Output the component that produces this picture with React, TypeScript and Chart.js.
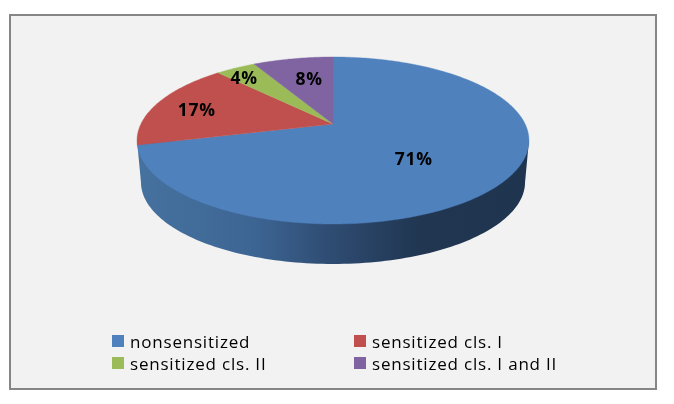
import React, { useEffect, useRef } from "react";
import { Chart, registerables } from "chart.js";

Chart.register(...registerables);

const categories = ["nonsensitized", "sensitized cls. I", "sensitized cls. II", "sensitized cls. I and II"];
const shares = [71, 17, 4, 8];
const sliceColors = ["#4f81bd", "#c0504d", "#9bbb59", "#8064a2"];
// order in which the legend cells are filled: [column, row]
const legendCells = [[0, 0], [1, 0], [0, 1], [1, 1]];
// per-slice label placement: radial fraction and vertical nudge
const labelRadius = [0.5, 0.77, 0.9, 0.55];
const labelNudge = [10, 3.5, 6, -5];

const TILT = { k: 0.1976, sx: 192.1, sy: 80.24 };
const BASE = { scale: 0.98, drop: 42 };
const LEGEND = { cols: [112, 354], rows: [335, 357], box: 12, gap: 6 };
const FONT = '"Open Sans", sans-serif';

function project(cx: number, cy: number, a: number, r = 1, s = 1) {
  const u = Math.cos(a) * r;
  const v = Math.sin(a) * r;
  const d = 1 - TILT.k * v;
  return { x: cx + (s * TILT.sx * u) / d, y: cy + (s * TILT.sy * v) / d };
}

const perspectivePie = {
  id: "perspectivePie",
  beforeDatasetsDraw(chart: any) {
    const { ctx } = chart;
    const meta = chart.getDatasetMeta(0);
    const cx = meta.data[0].x;
    const cy = meta.data[0].y;

    // side wall
    const ext = Math.asin(TILT.k);
    const grad = ctx.createLinearGradient(cx - 196, 0, cx + 196, 0);
    grad.addColorStop(0, "#46729f");
    grad.addColorStop(0.3, "#3d6593");
    grad.addColorStop(0.5, "#2e4b71");
    grad.addColorStop(0.72, "#203651");
    grad.addColorStop(1, "#1f344f");
    ctx.save();
    ctx.fillStyle = grad;
    ctx.beginPath();
    const top0 = project(cx, cy, ext);
    ctx.moveTo(top0.x, top0.y);
    for (let i = 0; i <= 120; i++) {
      const a = ext + ((Math.PI - 2 * ext) * i) / 120;
      const p = project(cx, cy + BASE.drop, a, 1, BASE.scale);
      ctx.lineTo(p.x, p.y);
    }
    const top1 = project(cx, cy, Math.PI - ext);
    ctx.lineTo(top1.x, top1.y);
    ctx.closePath();
    ctx.fill();

    // top face, one slice per arc element of the doughnut controller
    meta.data.forEach((arc: any) => {
      const { startAngle, endAngle } = arc.getProps(["startAngle", "endAngle"]);
      ctx.fillStyle = arc.options.backgroundColor;
      ctx.strokeStyle = arc.options.backgroundColor;
      ctx.lineWidth = 0.4;
      ctx.beginPath();
      ctx.moveTo(cx, cy);
      const n = Math.max(8, Math.ceil((endAngle - startAngle) * 60));
      for (let i = 0; i <= n; i++) {
        const p = project(cx, cy, startAngle + ((endAngle - startAngle) * i) / n);
        ctx.lineTo(p.x, p.y);
      }
      ctx.closePath();
      ctx.fill();
      ctx.stroke();
    });

    // percentage labels
    ctx.fillStyle = "#000";
    ctx.font = `bold 17.5px ${FONT}`;
    ctx.letterSpacing = "0.8px";
    ctx.textAlign = "center";
    ctx.textBaseline = "middle";
    meta.data.forEach((arc: any, i: number) => {
      const { startAngle, endAngle } = arc.getProps(["startAngle", "endAngle"]);
      const p = project(cx, cy, (startAngle + endAngle) / 2, labelRadius[i]);
      ctx.fillText(`${shares[i]}%`, p.x, p.y + labelNudge[i]);
    });
    ctx.restore();
    return false;
  },
  afterDraw(chart: any) {
    const { ctx } = chart;
    ctx.save();
    ctx.font = `17px ${FONT}`;
    ctx.letterSpacing = "0.8px";
    ctx.textAlign = "left";
    ctx.textBaseline = "alphabetic";
    categories.forEach((name, i) => {
      const [c, r] = legendCells[i];
      const x = LEGEND.cols[c];
      const y = LEGEND.rows[r];
      ctx.fillStyle = sliceColors[i];
      ctx.fillRect(x, y, LEGEND.box, LEGEND.box);
      ctx.fillStyle = "#000";
      ctx.fillText(name, x + LEGEND.box + LEGEND.gap, y + LEGEND.box + 0.5);
    });
    ctx.restore();
  },
};

export default function App() {
  const ref = useRef<HTMLCanvasElement>(null);
  useEffect(() => {
    document.body.style.margin = "0";
    const chart = new Chart(ref.current!, {
      type: "pie",
      data: {
        labels: categories,
        datasets: [{ data: shares, backgroundColor: sliceColors, borderWidth: 0 }],
      },
      options: {
        responsive: false,
        animation: false,
        devicePixelRatio: 1,
        layout: { padding: { left: 0, right: 8, top: 0, bottom: 156 } },
        plugins: { legend: { display: false }, tooltip: { enabled: false } },
      },
      plugins: [perspectivePie],
    } as any);
    return () => chart.destroy();
  }, []);
  return (
    <div style={{ position: "relative", width: 674, height: 404, background: "#fff", overflow: "hidden" }}>
      <div
        style={{
          position: "absolute",
          left: 9,
          top: 14,
          width: 644,
          height: 372,
          background: "#f2f2f2",
          border: "2px solid #868686",
        }}
      />
      <canvas ref={ref} width={674} height={404} style={{ position: "absolute", left: 0, top: 0, display: "block" }} />
    </div>
  );
}
